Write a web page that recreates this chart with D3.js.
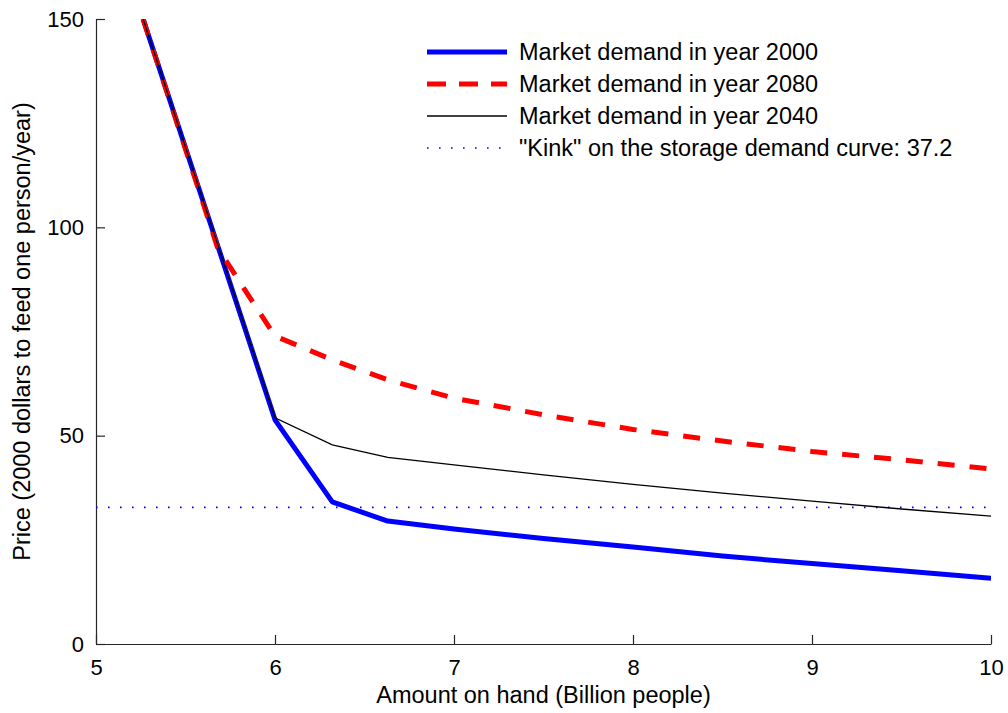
<!DOCTYPE html>
<html>
<head>
<meta charset="utf-8">
<script src="https://cdn.jsdelivr.net/npm/d3@7"></script>
<style>
  html, body { margin: 0; padding: 0; background: #fff; }
  svg { display: block; font-family: "Liberation Sans", Arial, Helvetica, sans-serif; }
</style>
</head>
<body>
<svg id="chart" width="1008" height="713"></svg>
<script>
// Amount on hand (billion people) and price per series
const amount2000 = [5.263, 6.0, 6.32, 6.63, 7.0, 7.5, 8.0, 8.5, 9.0, 9.5, 10.0];
const price2000  = [150, 53.8, 34.1, 29.5, 27.6, 25.3, 23.3, 21.1, 19.3, 17.6, 15.8];

const amount2080 = [5.263, 5.68, 6.0, 6.32, 6.63, 7.0, 7.5, 8.0, 8.5, 9.0, 9.5, 10.0];
const price2080  = [150, 95.0, 73.9, 68.2, 63.4, 59.0, 55.0, 51.5, 48.7, 46.2, 44.2, 42.0];

const amount2040 = [5.263, 6.0, 6.32, 6.63, 7.0, 7.5, 8.0, 8.5, 9.0, 9.5, 10.0];
const price2040  = [150, 54.3, 47.8, 44.8, 43.0, 40.6, 38.3, 36.2, 34.3, 32.4, 30.7];

const kinkLevel = 32.8;

const xTicks = [5, 6, 7, 8, 9, 10];
const yTicks = [0, 50, 100, 150];

const legendLabels = [
  "Market demand in year 2000",
  "Market demand in year 2080",
  "Market demand in year 2040",
  "\"Kink\" on the storage demand curve: 37.2"
];

const svg = d3.select("#chart");
const margin = { left: 96, right: 17, top: 19, bottom: 69 };
const W = 1008, H = 713;

const x = d3.scaleLinear().domain([5, 10]).range([margin.left, W - margin.right]);
const y = d3.scaleLinear().domain([0, 150]).range([H - margin.bottom, margin.top]);

const axisColor = "#262626";
const labelSize = "23.5px";
const tickSize = "22px";

// Plot area clip
svg.append("clipPath").attr("id", "plotClip")
  .append("rect")
  .attr("x", x(5)).attr("y", y(150))
  .attr("width", x(10) - x(5)).attr("height", y(0) - y(150));

// Axes with inward ticks
const xAxis = d3.axisBottom(x).tickValues(xTicks).tickSizeInner(-9).tickSizeOuter(0).tickPadding(15)
  .tickFormat(d3.format("d"));
const yAxis = d3.axisLeft(y).tickValues(yTicks).tickSizeInner(-9).tickSizeOuter(0).tickPadding(12)
  .tickFormat(d3.format("d"));

const gx = svg.append("g").attr("transform", `translate(0,${y(0)})`).call(xAxis);
const gy = svg.append("g").attr("transform", `translate(${x(5)},0)`).call(yAxis);

[gx, gy].forEach(g => {
  g.select(".domain").attr("stroke", axisColor).attr("stroke-width", 1.2);
  g.selectAll(".tick line").attr("stroke", axisColor).attr("stroke-width", 1.2);
  g.selectAll(".tick text").attr("fill", "#000").style("font-size", tickSize);
});

// Axis titles
svg.append("text")
  .attr("x", (x(5) + x(10)) / 2).attr("y", 703)
  .attr("text-anchor", "middle").style("font-size", labelSize).attr("fill", "#000")
  .text("Amount on hand (Billion people)");

svg.append("text")
  .attr("transform", `translate(30,${(y(0) + y(150)) / 2}) rotate(-90)`)
  .attr("text-anchor", "middle").style("font-size", labelSize).attr("fill", "#000")
  .text("Price (2000 dollars to feed one person/year)");

const plot = svg.append("g").attr("clip-path", "url(#plotClip)");

// Kink reference line
plot.append("line")
  .attr("x1", x(5)).attr("x2", x(10))
  .attr("y1", y(kinkLevel)).attr("y2", y(kinkLevel))
  .attr("stroke", "#0000ff").attr("stroke-width", 1.6)
  .attr("stroke-dasharray", "1.6,10.4");

const line = d3.line().x(d => x(d[0])).y(d => y(d[1]));
const zip = (a, b) => a.map((v, i) => [v, b[i]]);

// 2000 demand
plot.append("path").datum(zip(amount2000, price2000))
  .attr("d", line).attr("fill", "none")
  .attr("stroke", "#0000ff").attr("stroke-width", 5).attr("stroke-linejoin", "round");

// 2080 demand
plot.append("path").datum(zip(amount2080, price2080))
  .attr("d", line).attr("fill", "none")
  .attr("stroke", "#ff0000").attr("stroke-width", 5)
  .attr("stroke-dasharray", "17,15");

// 2040 demand
plot.append("path").datum(zip(amount2040, price2040))
  .attr("d", line).attr("fill", "none")
  .attr("stroke", "#000").attr("stroke-width", 1.3);

// Legend
const legendStyles = [
  { stroke: "#0000ff", width: 5, dash: null },
  { stroke: "#ff0000", width: 5, dash: "19,13" },
  { stroke: "#000", width: 1.3, dash: null },
  { stroke: "#0000ff", width: 1.6, dash: "1.6,10.4" }
];
const legend = svg.append("g");
legendLabels.forEach((label, i) => {
  const cy = 52 + i * 32;
  const st = legendStyles[i];
  legend.append("line")
    .attr("x1", 427).attr("x2", 507).attr("y1", cy).attr("y2", cy)
    .attr("stroke", st.stroke).attr("stroke-width", st.width)
    .attr("stroke-dasharray", st.dash);
  legend.append("text")
    .attr("x", 519).attr("y", cy).attr("dy", "0.36em")
    .style("font-size", labelSize).attr("fill", "#000")
    .text(label);
});
</script>
</body>
</html>
